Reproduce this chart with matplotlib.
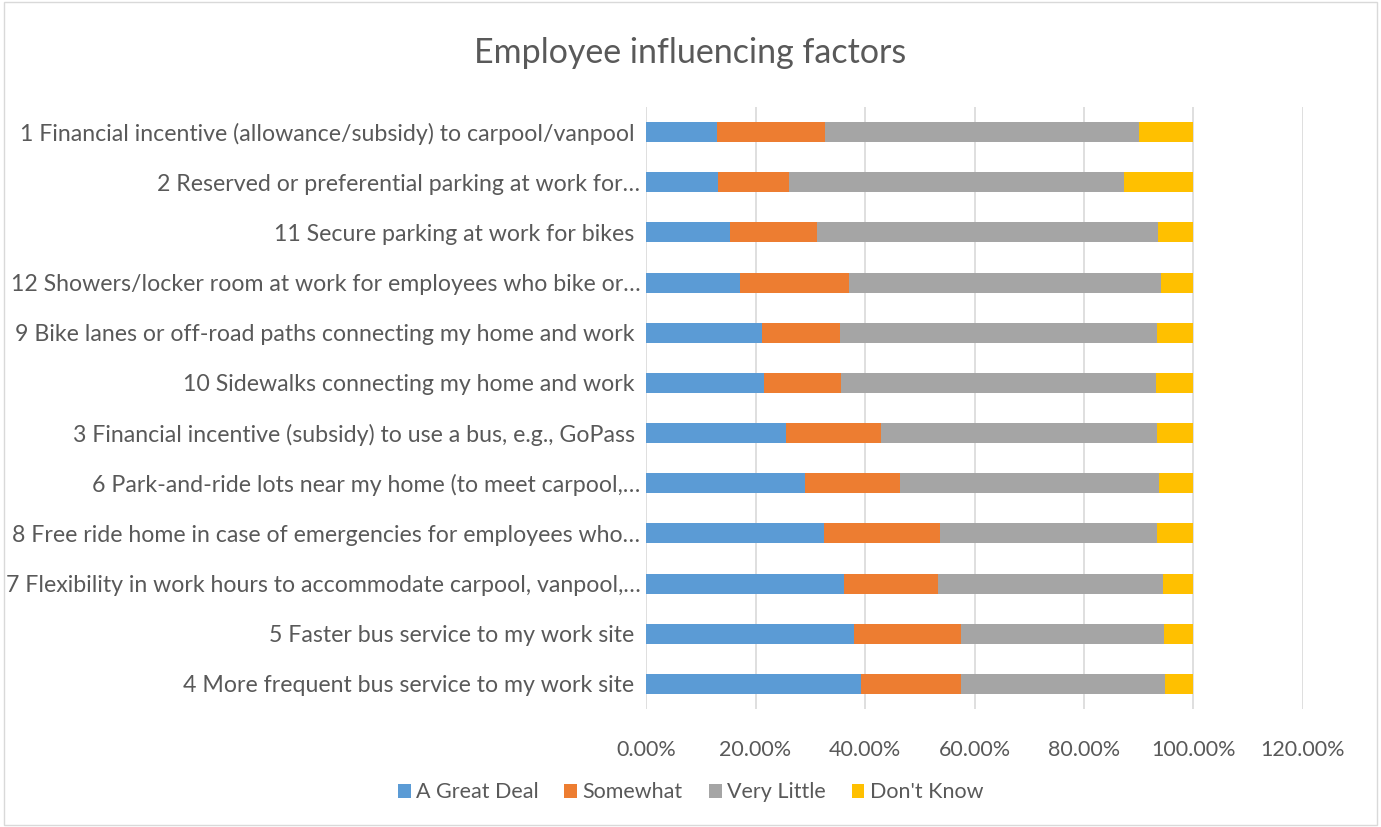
import matplotlib
matplotlib.use("Agg")
import matplotlib.pyplot as plt
import numpy as np
from matplotlib.patches import Rectangle

plt.rcParams['font.family'] = ['Lato', 'DejaVu Sans']

# categories, top to bottom as shown
factors = [
    "1 Financial incentive (allowance/subsidy) to carpool/vanpool ",
    "2 Reserved or preferential parking at work for…",
    "11 Secure parking at work for bikes ",
    "12 Showers/locker room at work for employees who bike or…",
    "9 Bike lanes or off-road paths connecting my home and work ",
    "10 Sidewalks connecting my home and work ",
    "3 Financial incentive (subsidy) to use a bus, e.g., GoPass ",
    "6 Park-and-ride lots near my home (to meet carpool,…",
    "8 Free ride home in case of emergencies for employees who…",
    "7 Flexibility in work hours to accommodate carpool, vanpool,…",
    "5 Faster bus service to my work site ",
    "4 More frequent bus service to my work site ",
]

# shares in percent
great_deal = [13.0, 13.1, 15.4, 17.2, 21.2, 21.5, 25.6, 29.1, 32.5, 36.1, 38.0, 39.2]
somewhat = [19.7, 13.0, 15.9, 19.9, 14.2, 14.2, 17.4, 17.3, 21.2, 17.2, 19.6, 18.4]
very_little = [57.3, 61.2, 62.3, 56.9, 58.0, 57.5, 50.4, 47.3, 39.6, 41.2, 37.0, 37.2]
dont_know = [10.0, 12.7, 6.4, 6.0, 6.6, 6.8, 6.6, 6.3, 6.7, 5.5, 5.4, 5.2]

series = [
    ("A Great Deal", great_deal, "#5B9BD5"),
    ("Somewhat", somewhat, "#ED7D31"),
    ("Very Little", very_little, "#A5A5A5"),
    ("Don't Know", dont_know, "#FFC000"),
]

txt = "#595959"
fig = plt.figure(figsize=(13.81, 8.27), dpi=100)
ax = fig.add_axes([0.4678, 0.1427, 0.4757, 0.7279])

y = np.arange(len(factors))[::-1]
left = np.zeros(len(factors))
for name, vals, col in series:
    vals = np.array(vals) / 100.0
    ax.barh(y, vals, left=left, height=0.4, color=col, label=name, zorder=3)
    left += vals

ax.set_xlim(0, 1.2)
ax.set_ylim(-0.5, len(factors) - 0.5)
ax.set_xticks(np.arange(0, 1.21, 0.2))
ax.set_xticklabels(["%.2f%%" % (v * 100) for v in np.arange(0, 1.21, 0.2)])
ax.set_yticks(y)
ax.set_yticklabels(factors)
ax.tick_params(axis='both', length=0, colors=txt)
ax.tick_params(axis='x', pad=22, labelsize=15.5)
ax.tick_params(axis='y', pad=4, labelsize=16.7)
ax.grid(axis='x', color='#D9D9D9', linewidth=1.2, zorder=0)
for s in ax.spines.values():
    s.set_visible(False)

fig.text(0.5, 0.936, "Employee influencing factors", ha='center', va='center',
         fontsize=24.5, color=txt)

fig.legend(loc='center', bbox_to_anchor=(0.5, 0.042), ncol=4, frameon=False,
           fontsize=15.5, labelcolor=txt, handlelength=0.6, handleheight=0.6,
           handletextpad=0.25, columnspacing=1.2)

fig.patches.append(Rectangle((0.003, 0.003), 0.994, 0.994, transform=fig.transFigure,
                             fill=False, edgecolor='#D9D9D9', linewidth=1))

fig.savefig("out.png", dpi=100)
